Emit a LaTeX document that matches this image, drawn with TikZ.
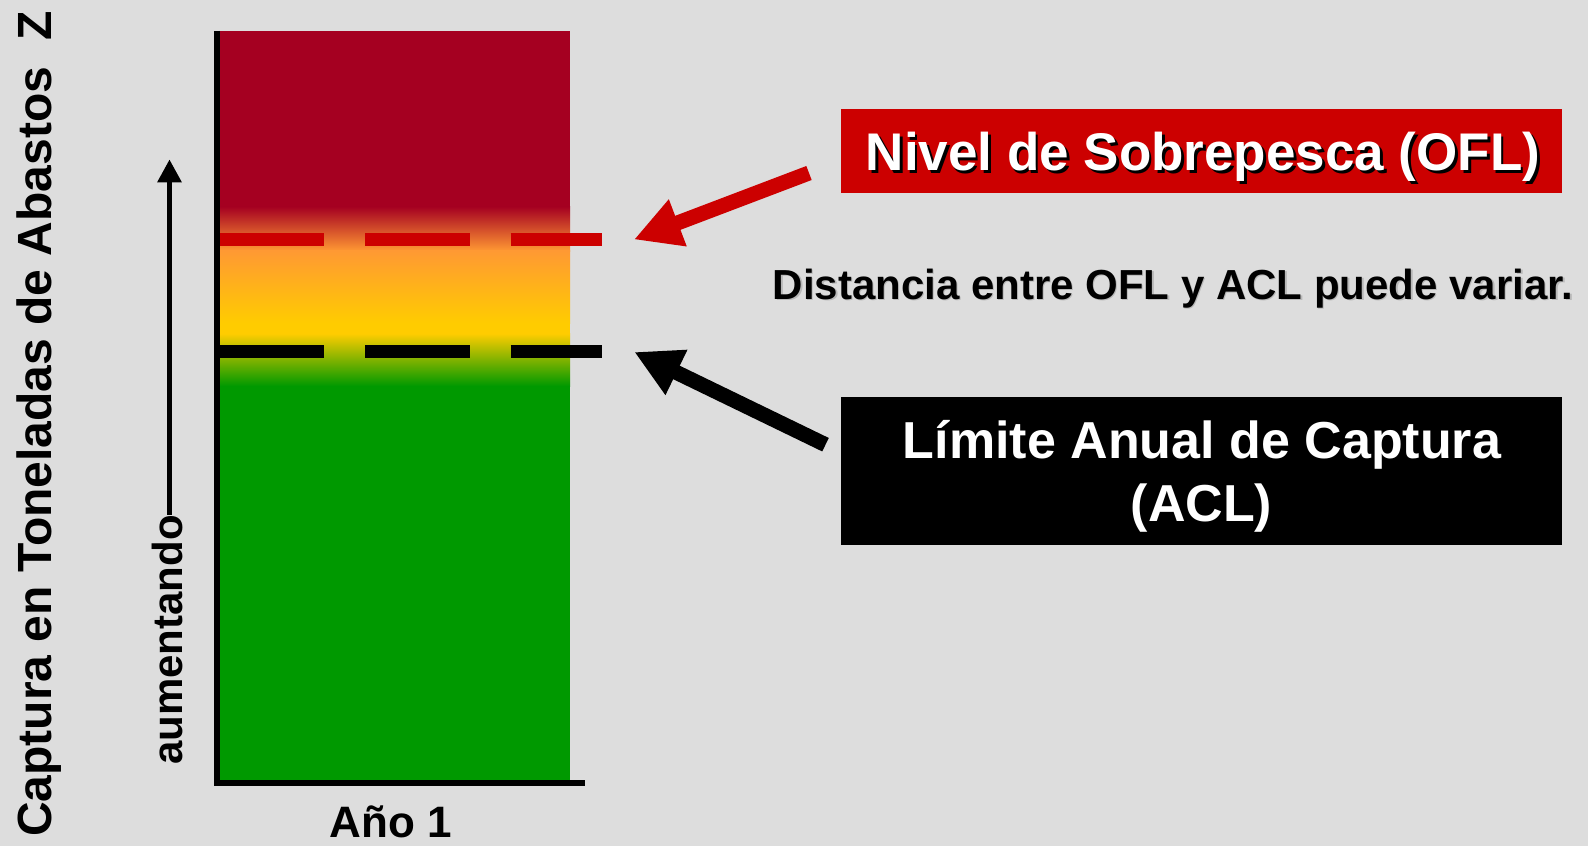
\documentclass[tikz,border=0pt]{standalone}
\usepackage{fontspec}
\setmainfont{Liberation Sans}
\usetikzlibrary{arrows.meta,calc}
\definecolor{bgc}{HTML}{DDDDDD}
\definecolor{barred}{HTML}{A50021}
\definecolor{barorange}{HTML}{FF9933}
\definecolor{baryellow}{HTML}{FFCC00}
\definecolor{bargreen}{HTML}{009900}
\definecolor{boxred}{HTML}{CC0000}
\begin{document}
\begin{tikzpicture}[x=0.03cm,y=-0.03cm,
  limdash/.style={line width=11.35pt, dash pattern=on 89.6pt off 34.6pt},
  bigarrow/.style={line width=12.8pt, -{Triangle[length=40pt,width=40pt]}},
  boxstyle/.style={inner sep=0pt, minimum width=615.4pt},
  bigtext/.style={font=\bfseries\fontsize{45.24pt}{54pt}\selectfont, anchor=base, inner sep=0pt},
  acltext/.style={font=\bfseries\fontsize{44.39pt}{54pt}\selectfont, anchor=base, inner sep=0pt, text=white},
  midtext/.style={font=\bfseries\fontsize{35.85pt}{43pt}\selectfont, anchor=base, inner sep=0pt},
  axlabel/.style={font=\bfseries\fontsize{40.97pt}{49pt}\selectfont, rotate=90, anchor=base west, inner sep=0pt}
]
\fill[bgc] (0,0) rectangle (1588,846);
\useasboundingbox (0,0) rectangle (1588,846);

% bar with colour zones
\fill[barred] (217,31) rectangle (570,207);
\shade[top color=barred, bottom color=barorange] (217,206.5) rectangle (570,251);
\shade[top color=barorange, bottom color=baryellow] (217,250.5) rectangle (570,323);
\fill[baryellow] (217,322.5) rectangle (570,334);
\shade[top color=baryellow, bottom color=bargreen] (217,333.5) rectangle (570,386);
\fill[bargreen] (217,385.5) rectangle (570,781);

% limit lines
\coordinate (oflA) at (219.5,239.5);
\coordinate (oflB) at (601.5,239.5);
\coordinate (aclA) at (219.5,351.5);
\coordinate (aclB) at (601.5,351.5);
\draw[limdash, boxred] (oflA) -- (oflB);
\draw[limdash, black] (aclA) -- (aclB);

% axes
\coordinate (axtop) at (217,31);
\coordinate (axorigin) at (217,783);
\coordinate (axright) at (585,783);
\draw[line width=4.9pt, miter limit=10] (axtop) -- (axorigin) -- (axright);

% y-axis labels
\node[axlabel] (ylab) at (51,837) {Captura en Toneladas de Abastos\ \ Z};
\node[midtext, rotate=90, anchor=base west] (aum) at (182.5,765) {aumentando};
\coordinate (aumtip) at (169.5,159.3);
\draw[line width=5.1pt, -{Triangle[length=19.6pt,width=19.6pt]}] ($(aum.base east)+(-13,0)$) -- (aumtip);

% x-axis label
\node[font=\bfseries\fontsize{37.56pt}{45pt}\selectfont, anchor=base, inner sep=0pt] (ano) at (390.5,837.5) {Año 1};

% OFL box
\node[boxstyle, fill=boxred, minimum height=71.7pt] (oflbox) at (1201.5,151) {};
\node[bigtext, text=black] (oflshadow) at (1205.7,173.7) {Nivel de Sobrepesca (OFL)};
\node[bigtext, text=white] (ofltext) at (1203,171) {Nivel de Sobrepesca (OFL)};

% middle note
\node[midtext, text=black!28] (noteshadow) at (1174.5,300.8) {Distancia entre OFL y ACL puede variar.};
\node[midtext, text=black] (note) at (1173,299.3) {Distancia entre OFL y ACL puede variar.};

% ACL box
\node[boxstyle, fill=black, minimum height=126.3pt] (aclbox) at (1201.5,471) {};
\node[acltext] (acl1) at (1202,458.3) {Límite Anual de Captura};
\node[acltext] (acl2) at (1201.5,521.7) {(ACL)};

% arrows
\coordinate (ofltail) at (809,173);
\coordinate (ofltip) at (634,239.5);
\draw[bigarrow, boxred] (ofltail) -- (ofltip);
\coordinate (acltail) at (825.5,444.7);
\coordinate (acltip) at (634.3,352);
\draw[bigarrow, black] (acltail) -- (acltip);
\end{tikzpicture}
\end{document}
